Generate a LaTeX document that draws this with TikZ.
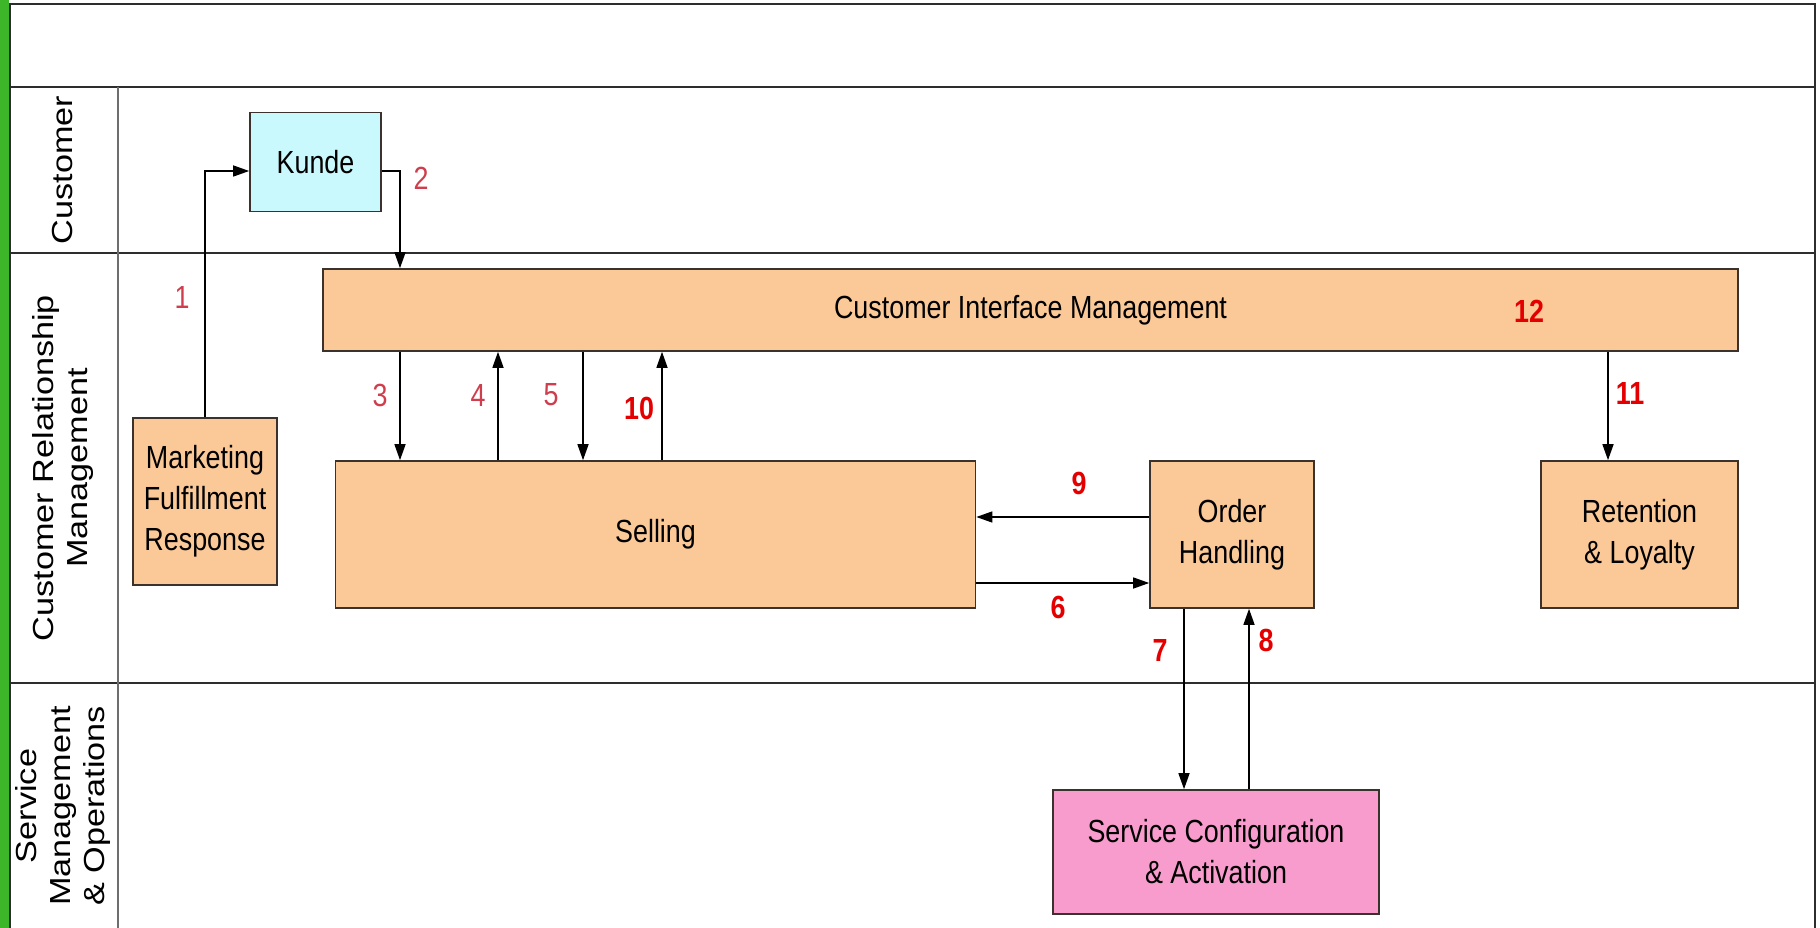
\documentclass[tikz,border=0pt]{standalone}
\usepackage{fontspec}
\setmainfont{Liberation Sans}
\newfontfamily\boxfont[FakeStretch=0.84]{Liberation Sans}
\newfontfamily\lanefont[FakeStretch=1.18]{Liberation Sans}
\usetikzlibrary{arrows.meta}

\definecolor{peach}{RGB}{251,201,152}
\definecolor{lightcyan}{RGB}{202,249,253}
\definecolor{pinkbox}{RGB}{248,156,206}
\definecolor{barGreen}{RGB}{62,182,42}
\definecolor{boxline}{RGB}{60,50,45}
\definecolor{laneline}{RGB}{45,45,45}
\definecolor{headline}{RGB}{110,110,110}
\definecolor{numred}{RGB}{228,0,0}
\definecolor{numpink}{RGB}{206,62,76}

\begin{document}
\begin{tikzpicture}[x=1pt,y=-1pt,
  proc/.style={draw=boxline, line width=1.6pt, fill=peach, align=center,
    inner sep=0pt, font=\boxfont\fontsize{32}{41}\selectfont},
  lanelabel/.style={rotate=90, align=center, inner sep=0pt,
    font=\lanefont\fontsize{29}{34}\selectfont},
  lane/.style={draw=laneline, line width=2.6pt},
  headcol/.style={draw=headline, line width=2pt},
  arr/.style={draw=black, line width=1.4pt, -{Triangle[length=16pt,width=11pt]}},
  num/.style={text=numred, inner sep=0pt, font=\boxfont\bfseries\fontsize{32}{38}\selectfont},
  numthin/.style={text=numpink, inner sep=0pt, font=\boxfont\fontsize{32}{38}\selectfont}]

\useasboundingbox (0,0) rectangle (1820,928);
\fill[white] (0,0) rectangle (1820,928);

% green strip on the left edge
\fill[barGreen] (0,0) rectangle (9,928);

% swimlane frame
\draw[lane] (10,4) -- (1815,4);
\draw[lane] (10,87) -- (1815,87);
\draw[lane] (10,253) -- (1815,253);
\draw[lane] (10,683) -- (1815,683);
\draw[lane] (10,3) -- (10,928);
\draw[lane] (1815,3) -- (1815,928);
\draw[headcol] (118,87) -- (118,928);

% lane titles
\node[lanelabel] (lcust) at (63,170) {Customer};
\node[lanelabel] (lcrm) at (63,468) {Customer Relationship\\Management};
\node[lanelabel] (lsmo) at (63,806) {Service\\Management\\\& Operations};

% process boxes
\node[proc, fill=lightcyan, minimum width=131pt, minimum height=99pt] (kunde) at (315.5,162) {Kunde};
\node[proc, minimum width=1415pt, minimum height=82pt] (cim) at (1030.5,310) {Customer Interface Management};
\node[proc, minimum width=144pt, minimum height=167pt] (mkt) at (205,501.5) {Marketing\\Fulfillment\\Response};
\node[proc, minimum width=640pt, minimum height=147pt] (sell) at (655.5,534.5) {Selling};
\node[proc, minimum width=164pt, minimum height=147pt] (order) at (1232,534.5) {Order\\Handling};
\node[proc, minimum width=197pt, minimum height=147pt] (ret) at (1639.5,534.5) {Retention\\\& Loyalty};
\node[proc, fill=pinkbox, minimum width=326pt, minimum height=124pt] (scfg) at (1216,852) {Service Configuration\\\& Activation};

% x positions of the vertical connectors
\coordinate (x3) at (400,0);
\coordinate (x4) at (498,0);
\coordinate (x5) at (583,0);
\coordinate (x10) at (662,0);
\coordinate (x7) at (1184,0);
\coordinate (x8) at (1249,0);
\coordinate (x11) at (1608,0);
\coordinate (y9) at (0,517);
\coordinate (y6) at (0,583);

% connectors
\draw[arr] (mkt.north) |- ([yshift=-9pt]kunde.west);
\draw[arr] ([yshift=-9pt]kunde.east) -| (cim.north -| x3);
\draw[arr] (cim.south -| x3) -- (sell.north -| x3);
\draw[arr] (sell.north -| x4) -- (cim.south -| x4);
\draw[arr] (cim.south -| x5) -- (sell.north -| x5);
\draw[arr] (sell.north -| x10) -- (cim.south -| x10);
\draw[arr] (order.west |- y9) -- (sell.east |- y9);
\draw[arr] (sell.east |- y6) -- (order.west |- y6);
\draw[arr] (order.south -| x7) -- (scfg.north -| x7);
\draw[arr] (scfg.north -| x8) -- (order.south -| x8);
\draw[arr] (cim.south -| x11) -- (ret.north -| x11);

% step numbers
\node[numthin] (n1) at (182,297) {1};
\node[numthin] (n2) at (421,178) {2};
\node[numthin] (n3) at (380,395) {3};
\node[numthin] (n4) at (478,395) {4};
\node[numthin] (n5) at (551,395) {5};
\node[num] (n10) at (639,408) {10};
\node[num] (n9) at (1079,483) {9};
\node[num] (n6) at (1058,607) {6};
\node[num] (n7) at (1160,650) {7};
\node[num] (n8) at (1266,640) {8};
\node[num] (n11) at (1630,393) {11};
\node[num] (n12) at (1529,311) {12};

\end{tikzpicture}
\end{document}
